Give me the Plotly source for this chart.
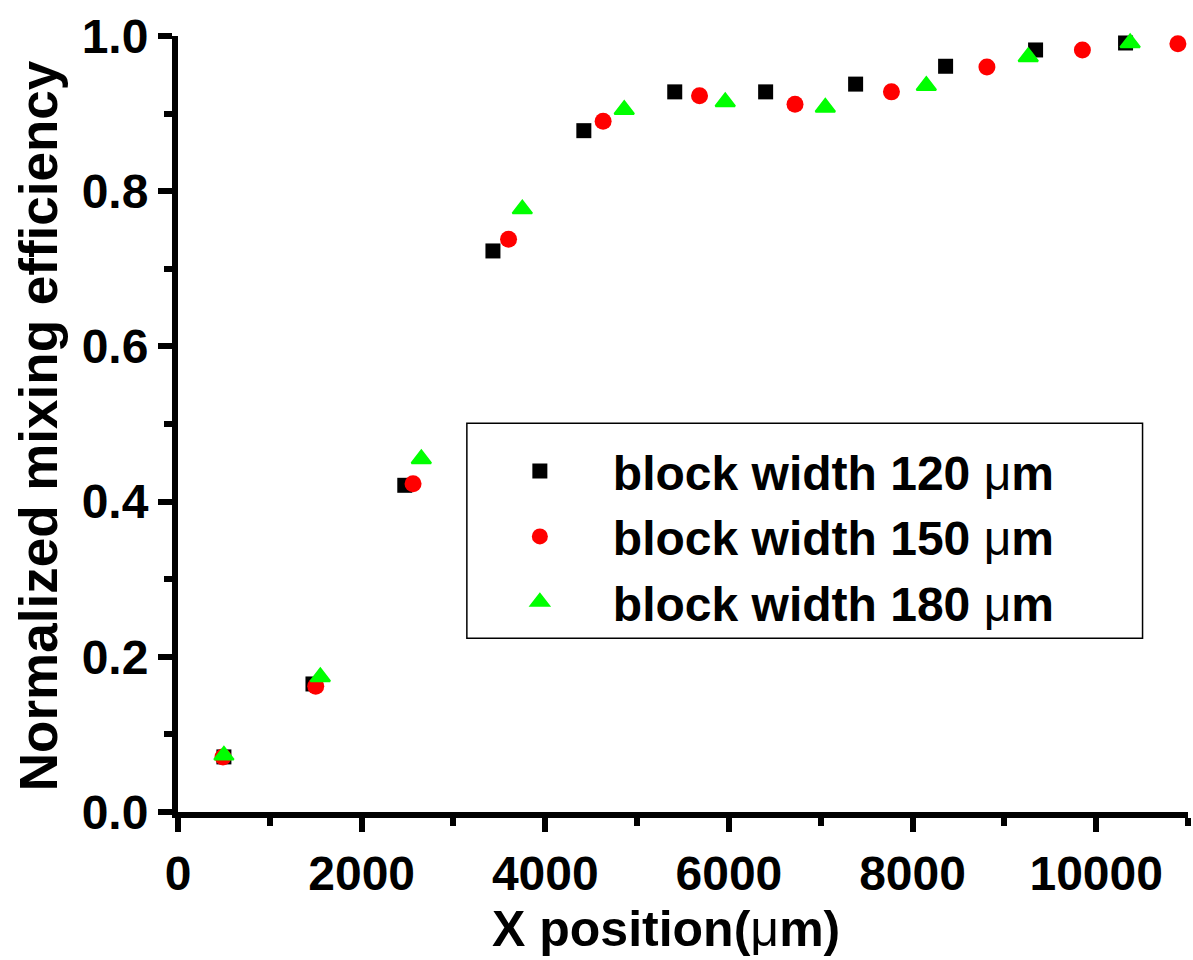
import plotly.graph_objects as go

# Mixing efficiency along the channel for three block widths
x_120 = [500, 1470, 2470, 3430, 4420, 5410, 6400, 7380, 8360, 9340, 10320]
y_120 = [0.071, 0.165, 0.421, 0.723, 0.878, 0.928, 0.928, 0.938, 0.961, 0.982, 0.991]

x_150 = [490, 1500, 2560, 3600, 4630, 5680, 6720, 7770, 8810, 9850, 10890]
y_150 = [0.071, 0.162, 0.423, 0.738, 0.890, 0.923, 0.912, 0.928, 0.960, 0.982, 0.990]

x_180 = [500, 1550, 2650, 3750, 4860, 5960, 7050, 8150, 9260, 10370]
y_180 = [0.073, 0.174, 0.455, 0.777, 0.905, 0.915, 0.908, 0.936, 0.973, 0.991]

MU = '<span style="font-weight:normal">\u03bc</span>'
series_names = [f"block width 120 {MU}m", f"block width 150 {MU}m", f"block width 180 {MU}m"]

x_ticks = [0, 2000, 4000, 6000, 8000, 10000]
y_ticks = [0.0, 0.2, 0.4, 0.6, 0.8, 1.0]
y_tick_text = ["0.0", "0.2", "0.4", "0.6", "0.8", "1.0"]

FONT = "Liberation Sans, Arial, sans-serif"

fig = go.Figure()
fig.add_trace(go.Scatter(x=x_120, y=y_120, mode="markers", name=series_names[0],
                         marker=dict(symbol="square", size=15, color="black"),
                         cliponaxis=False))
fig.add_trace(go.Scatter(x=x_150, y=y_150, mode="markers", name=series_names[1],
                         marker=dict(symbol="circle", size=17, color="#ff0000"),
                         cliponaxis=False))
fig.add_trace(go.Scatter(x=x_180, y=y_180, mode="markers", name=series_names[2],
                         marker=dict(symbol="triangle-up", size=17, color="#00ff00",
                                     line=dict(color="#00ff00", width=2)),
                         cliponaxis=False))

axis_common = dict(
    showgrid=False, zeroline=False, showline=True, linecolor="black", linewidth=6,
    ticks="outside", tickwidth=6, tickcolor="black", ticklen=14,
    tickfont=dict(family=FONT, size=48, color="black", weight="bold"),
    minor=dict(ticks="outside", ticklen=8, tickwidth=6, tickcolor="black"),
)

fig.update_xaxes(
    range=[0, 11000], tickvals=x_ticks, ticktext=[str(v) for v in x_ticks],
    minor_tickvals=[1000, 3000, 5000, 7000, 9000, 11000],
    **axis_common,
)
fig.update_yaxes(
    range=[0, 1.0], tickvals=y_ticks, ticktext=y_tick_text,
    minor_tickvals=[0.1, 0.3, 0.5, 0.7, 0.9],
    **axis_common,
)

title_font = dict(family=FONT, size=50, color="black", weight="bold")
fig.add_annotation(text=f"X position({MU}m)", xref="paper", yref="paper",
                   x=0.483, y=-0.151, xanchor="center", yanchor="middle",
                   showarrow=False, font=title_font)
fig.add_annotation(text="Normalized mixing efficiency", xref="paper", yref="paper",
                   x=-0.138, y=0.498, xanchor="center", yanchor="middle", textangle=-90,
                   showarrow=False, font=dict(family=FONT, size=53, color="black", weight="bold"))

# Legend frame
fig.add_shape(type="rect", xref="paper", yref="paper",
              x0=0.286, x1=0.955, y0=0.224, y1=0.501,
              line=dict(color="black", width=1.5), fillcolor="rgba(0,0,0,0)", layer="above")

fig.update_layout(
    width=1193, height=960,
    margin=dict(l=178, r=5, t=36, b=148),
    paper_bgcolor="white", plot_bgcolor="white",
    showlegend=True,
    legend=dict(
        x=0.286, y=0.488, xanchor="left", yanchor="top",
        borderwidth=0, bgcolor="rgba(0,0,0,0)",
        font=dict(family=FONT, size=48, color="black", weight="bold"),
        itemwidth=136,
    ),
)

fig.write_html("out.html")
